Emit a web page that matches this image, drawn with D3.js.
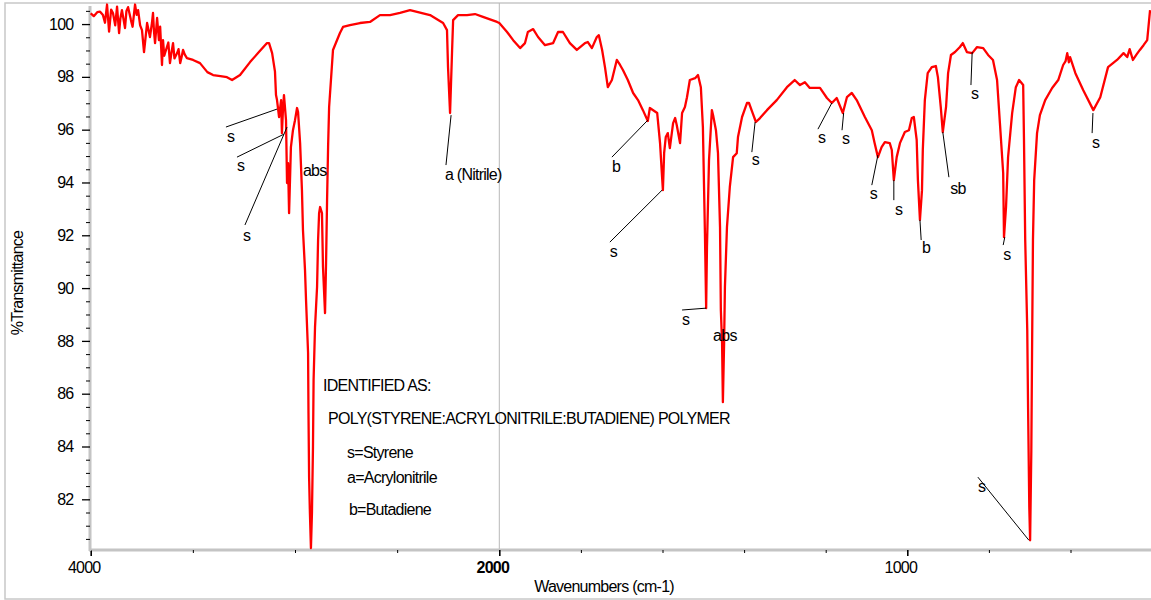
<!DOCTYPE html>
<html><head><meta charset="utf-8">
<script src="https://cdn.jsdelivr.net/npm/d3@7"></script>
<style>
body{margin:0;background:#fff;overflow:hidden;}
svg text{font-family:"Liberation Sans",Arial,sans-serif;font-size:16px;letter-spacing:-0.75px;fill:#000;}
</style></head><body><svg id="c" width="1151" height="600"></svg>
<script>
// ---- spectrum data (wavenumber cm-1, %T) ----
const wavenumbers = [
4000,3985,3968,3954,3940,3930,3920,3910,3900,3891,3880,3871,3861,3855,3847,3832,3825,3817,3803,3795,3783,3775,3768,3758,3749,3739,3724,3710,3700,3695,3690,3685,3675,3666,3660,3651,3646,3640,3627,3620,3612,3605,3597,3590,3577,3570,3562,3555,3548,3540,3529,3499,3465,3429,3401,3365,3333,3308,3269,3220,3181,3137,3127,3112,3098,3093,3088,3078,3068,3064,3059,3054,3044,3039,3034,3029,3020,3010,3000,2990,2985,2975,2966,2961,2951,2946,2936,2934,2931,2927,2922,2917,2912,2909,2902,2892,2887,2882,2877,2868,2863,2853,2848,2843,2838,2833,2824,2814,2780,2765,2731,2682,2633,2584,2535,2486,2437,2339,2275,2256,2251,2241,2231,2226,2202,2158,2119,2080,2011,2000,
1981,1966,1949,1937,1930,1917,1905,1888,1868,1856,1844,1827,1810,1790,1783,1773,1761,1756,1748,1741,1734,1724,1712,1704,1697,1685,1672,1660,1648,1636,1631,1613,1606,1601,1599,1596,1592,1587,1582,1574,1569,1565,1557,1552,1545,1540,1533,1520,1513,1506,1501,1496,1493,1491,1486,1479,1476,1469,1464,1459,1457,1454,1452,1449,1447,1442,1435,1427,1418,1415,1405,1393,1388,1379,1371,1361,1344,1320,1295,1276,1263,1251,1239,1214,1197,1185,1173,1158,1148,1136,1124,1104,1087,1080,1072,1063,1055,1043,1038,1033,1026,1018,1006,996,989,984,977,974,969,964,962,957,950,940,930,925,918,913,905,900,893,883,871,864,854,841,829,814,802,790,780,773,765,763,758,753,743,734,726,716,714,711,706,704,701,699,696,694,692,689,682,675,662,645,630,618,612,608,604,601,588,569,544,527,508,486,470,461,455,447,438,430,421,412,405
];
const transmittance = [
100.41,100.30,100.45,100.47,100.34,100.05,100.74,99.71,100.55,100.42,99.95,100.66,99.66,100.20,100.53,99.85,100.50,100.64,100.15,99.90,100.74,100.35,100.53,99.95,99.77,98.94,100.04,99.51,100.05,100.42,99.70,99.28,100.23,99.39,99.90,98.45,99.39,98.80,99.13,99.30,98.52,98.90,99.28,98.70,98.90,99.05,98.52,98.75,99.02,98.85,98.71,98.64,98.52,98.18,98.07,98.03,97.99,97.88,98.07,98.56,98.90,99.28,99.28,98.90,98.20,97.31,97.12,96.48,97.12,95.87,96.74,97.31,96.36,93.98,94.73,92.84,95.34,95.98,96.36,96.82,96.67,95.49,93.71,92.20,90.68,89.55,87.54,85.27,82.84,81.48,80.15,81.48,83.98,86.52,88.52,90.04,91.82,92.84,93.07,92.84,90.80,89.05,90.95,93.33,95.34,96.86,97.88,99.02,99.66,99.89,99.96,100.04,100.08,100.34,100.34,100.42,100.53,100.34,100.04,99.77,98.37,96.63,99.02,100.15,100.34,100.34,100.38,100.27,100.08,100.04,
99.70,99.39,99.09,99.28,99.70,99.81,99.51,99.20,99.28,99.70,99.70,99.28,99.02,99.28,99.32,99.09,99.51,99.58,99.02,98.37,97.61,97.88,98.64,98.45,98.26,97.88,97.39,97.12,96.74,96.33,96.82,96.63,95.49,94.20,93.71,95.11,95.72,95.87,95.30,96.25,96.44,96.17,95.49,96.63,96.86,97.23,97.88,97.95,98.07,97.61,96.10,92.08,89.24,91.55,94.85,96.74,96.55,95.98,95.11,92.31,89.17,87.92,85.68,87.92,90.04,92.31,93.83,94.96,95.11,95.72,96.48,97.01,97.01,96.63,96.29,96.44,96.74,97.12,97.61,97.88,97.69,97.80,97.58,97.58,97.20,97.01,97.20,96.63,97.23,97.39,97.12,96.48,95.98,95.49,94.96,95.34,95.53,95.49,95.23,94.09,94.96,95.49,95.91,95.98,96.44,96.48,95.61,94.09,92.58,93.71,95.23,97.12,98.14,98.37,98.41,97.99,96.86,95.91,96.86,98.14,98.83,98.94,99.13,99.28,98.94,98.90,99.13,99.09,98.83,98.64,97.88,96.25,94.36,91.93,93.07,94.96,96.63,97.61,97.88,97.69,95.61,91.82,88.41,85.49,81.70,80.45,83.86,88.03,91.82,94.09,95.87,96.55,97.12,97.58,97.88,98.45,98.60,98.90,98.55,98.75,98.14,97.50,96.74,97.23,98.37,98.64,98.90,98.75,99.05,98.64,98.85,99.02,99.20,99.39,100.53
];
// ---- axis ticks ----
const xMajorTicks = [4000, 2000, 1000];
const xMinorTicks = [3500, 3000, 2500, 1800, 1600, 1400, 1200, 800, 600];
const yTickLabels = [82, 84, 86, 88, 90, 92, 94, 96, 98, 100];
// ---- peak annotations ----
const annoLabels = ["s","s","s","abs","a (Nitrile)","b","s","s","abs","s","s","s","s","s","b","sb","s","s","s","s"];
const annoTextWn = [3333,3284,3254,2961,2266,1724,1729,1552,1476,1381,1219,1160,1092,1030,964,895,844,765,827,547];
const annoTextT  = [95.53,94.43,91.78,94.24,94.09,94.39,91.17,88.60,87.99,94.66,95.49,95.45,93.37,92.77,91.33,93.56,97.16,91.06,82.27,95.30];
const annoFromWn = [3338,3284,3245,null,2261,1724,1729,1552,null,1381,1219,1160,1087,1033,966,898,844,765,827,547];
const annoFromT  = [96.10,94.96,92.39,null,94.66,94.96,91.74,89.17,null,95.15,96.02,95.98,93.90,93.33,91.82,94.20,97.69,91.63,82.84,95.87];
const annoToWn   = [3088,3054,3039,null,2236,1636,1601,1493,null,1373,1185,1156,1072,1033,969,913,841,761,702,545];
const annoToT    = [96.78,95.83,96.10,null,96.55,96.36,93.71,89.24,null,96.29,97.01,96.63,95.04,94.09,92.58,95.91,98.94,91.93,80.45,96.63];
// ---- identification text ----
const noteLines = ["IDENTIFIED AS:","POLY(STYRENE:ACRYLONITRILE:BUTADIENE) POLYMER","s=Styrene","a=Acrylonitrile","b=Butadiene"];
const noteWn = [2863, 2838, 2745, 2745, 2736];
const noteT  = [86.10, 84.85, 83.56, 82.61, 81.40];

const svg = d3.select("#c");
const x = d3.scaleLinear().domain([4000, 2000, 400]).range([90.7, 499.3, 1152.1]);
const y = d3.scaleLinear().domain([80.08, 100.76]).range([550, 4]);

// outer frame
svg.append("rect").attr("x",5).attr("y",3).attr("width",1160).attr("height",596)
  .attr("fill","none").attr("stroke","#c8c8c8").attr("stroke-width",1.5);

// gridline at 2000
svg.append("line").attr("x1",x(2000)).attr("x2",x(2000)).attr("y1",3).attr("y2",550)
  .attr("stroke","#b8b8b8").attr("stroke-width",1);

svg.append("defs").append("clipPath").attr("id","clip").append("rect")
  .attr("x",90).attr("y",3).attr("width",1070).attr("height",547);

// axes
const gx = svg.append("g").attr("transform","translate(0,550)");
gx.append("line").attr("x1",89).attr("x2",1151).attr("stroke","#c4c4c4").attr("stroke-width",3);
const gy = svg.append("g").attr("transform","translate(90,0)");
gy.append("line").attr("y1",6).attr("y2",551).attr("stroke","#c4c4c4").attr("stroke-width",3);

const xMaj = gx.append("g").call(d3.axisBottom(x).tickValues(xMajorTicks).tickSize(6).tickPadding(5.5).tickFormat(d3.format("d")));
const xMin = gx.append("g").call(d3.axisBottom(x).tickValues(xMinorTicks).tickSize(3).tickFormat(""));
xMaj.selectAll("text").attr("x",-7).style("font-weight", d => d === 2000 ? "bold" : "normal");
xMaj.selectAll(".tick line").attr("stroke-width",1.6);

const yMinorTicks = d3.range(80.5, 100.6, 0.5).filter(v => Math.abs(v - Math.round(v/2)*2) > 0.01);
const yMaj = gy.append("g").call(d3.axisLeft(y).tickValues(yTickLabels).tickSize(8).tickPadding(8.5).tickFormat(d3.format("d")));
const yMin = gy.append("g").call(d3.axisLeft(y).tickValues(yMinorTicks).tickSize(4).tickFormat(""));
[xMaj,xMin,yMaj,yMin].forEach(g => { g.select(".domain").remove(); g.attr("font-family",null).attr("font-size",null); });
yMaj.selectAll(".tick line").attr("stroke-width",1.3);

// axis titles
svg.append("text").attr("x",604).attr("y",592).attr("text-anchor","middle").text("Wavenumbers (cm-1)");
svg.append("text").attr("transform","translate(23,283) rotate(-90)").attr("text-anchor","middle").text("%Transmittance");

// spectrum
const pts = wavenumbers.map((w,i) => [w, transmittance[i]]);
svg.append("path").datum(pts).attr("clip-path","url(#clip)")
  .attr("fill","none").attr("stroke","#ff0000").attr("stroke-width",2.3).attr("stroke-linejoin","round")
  .attr("d", d3.line().x(d => x(d[0])).y(d => y(d[1])));

// annotations
const ag = svg.append("g");
annoLabels.forEach((lab,i) => {
  if (annoFromWn[i] !== null) {
    ag.append("line").attr("x1",x(annoFromWn[i])).attr("y1",y(annoFromT[i]))
      .attr("x2",x(annoToWn[i])).attr("y2",y(annoToT[i])).attr("stroke","#000").attr("stroke-width",1);
  }
  ag.append("text").attr("x",x(annoTextWn[i])).attr("y",y(annoTextT[i])).text(lab);
});

// identification note
noteLines.forEach((t,i) => {
  svg.append("text").attr("x",x(noteWn[i])).attr("y",y(noteT[i])).text(t);
});
</script></body></html>
